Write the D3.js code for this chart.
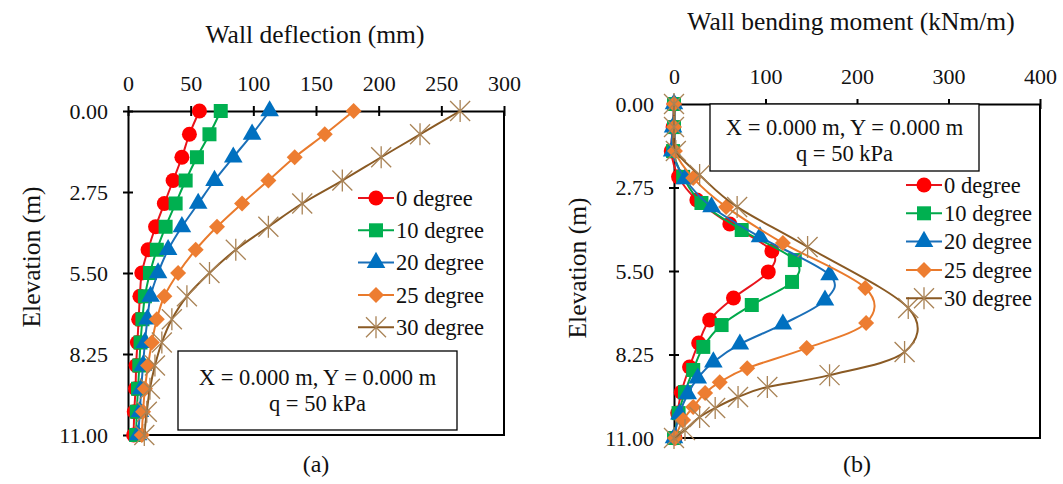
<!DOCTYPE html>
<html>
<head>
<meta charset="utf-8">
<script src="https://cdn.jsdelivr.net/npm/d3@7"></script>
<style>
  body { margin: 0; background: #fff; }
</style>
</head>
<body>
<div id="chart"></div>
<script>
var seriesNames = ["0 degree", "10 degree", "20 degree", "25 degree", "30 degree"];

// (a) wall deflection (mm), nodes at these elevations (m)
var deflElev = [0.00, 0.79, 1.57, 2.36, 3.14, 3.93, 4.71, 5.50, 6.29, 7.07, 7.86, 8.64, 9.43, 10.21, 11.00];
var defl0  = [57, 49, 43, 36, 29, 22, 16, 11, 9.5, 8.5, 7.5, 6.5, 6, 5, 4.5];
var defl10 = [74, 65, 55, 46, 38, 30, 23, 17.5, 13.5, 11.5, 10, 9, 8, 7, 6.5];
var defl20 = [113, 99, 84, 69, 56, 43, 32, 24, 18, 15.5, 13.5, 12, 10.5, 9.5, 8];
var defl25 = [180, 157, 133, 112, 91, 71, 54, 40, 29, 23, 19, 16, 13.5, 12, 11];
var defl30 = [265, 233, 202, 171, 139, 112, 86, 65, 47, 35, 27, 21.5, 17.5, 15, 13];

// (b) wall bending moment (kNm/m), each case has its own node elevations (m)
var momElev0  = [0, 0.76, 1.55, 2.40, 3.16, 3.95, 4.84, 5.53, 6.39, 7.11, 7.87, 8.66, 9.49, 10.18, 11.00];
var mom0      = [0, -1, -3, 5, 25, 61, 107, 103, 65, 39, 27, 17, 8, 4, 1];
var momElev10 = [0, 0.76, 1.55, 2.40, 3.26, 4.15, 5.14, 5.86, 6.62, 7.28, 8.00, 8.76, 9.49, 10.18, 11.00];
var mom10     = [0, 0, -1, 10, 30, 74, 132, 129, 85, 52, 32, 21, 12, 5, 0];
var momElev20 = [0, 0.76, 1.55, 2.47, 3.39, 4.38, 5.63, 6.46, 7.25, 7.91, 8.50, 9.03, 9.55, 10.21, 11.00];
var mom20     = [0, -1, -2, 12, 41, 94, 170, 165, 119, 72, 43, 26, 15, 6, 0];
var momElev25 = [0, 0.76, 1.55, 2.44, 3.39, 4.58, 6.06, 7.21, 8.04, 8.70, 9.16, 9.52, 9.98, 10.41, 11.00];
var mom25     = [0, 0, 1, 21, 57, 119, 209, 210, 145, 80, 50, 34, 21, 10, 1];
var momElev30 = [0, 0.76, 1.55, 2.34, 3.39, 4.71, 6.72, 8.17, 8.93, 9.32, 9.65, 10.01, 10.31, 10.74, 11.00];
var mom30     = [0, 0, 2, 28, 69, 146, 256, 252, 170, 102, 70, 45, 28, 12, 0];

var deflTicks = [0, 50, 100, 150, 200, 250, 300];
var momTicks = [0, 100, 200, 300, 400];
var elevTicks = [0, 2.75, 5.5, 8.25, 11];

var FONT = "'Liberation Serif', 'Times New Roman', Times, 'DejaVu Serif', serif";
var colors = ["#ff0000", "#00b050", "#0070c0", "#ed7d31", "#9c6a2e"];
var lineColors = ["#e8141c", "#00a84a", "#1a6fb8", "#e97a2c", "#8a5a24"];
var shapes = ["circle", "square", "triangle", "diamond", "star"];

var svg = d3.select("#chart").append("svg")
  .attr("width", 1063)
  .attr("height", 484)
  .style("font-family", FONT);

function label(g, x, y, size, txt) {
  return g.append("text").attr("x", x).attr("y", y)
    .style("font-family", FONT).style("font-size", size + "px")
    .attr("fill", "#111").text(txt);
}

function drawMarker(g, shape, x, y, i) {
  if (shape === "circle") {
    g.append("circle").attr("cx", x).attr("cy", y).attr("r", 7.5).attr("fill", colors[i]);
  } else if (shape === "square") {
    g.append("rect").attr("x", x - 7).attr("y", y - 7).attr("width", 14).attr("height", 14).attr("fill", colors[i]);
  } else if (shape === "triangle") {
    g.append("path").attr("d", d3.symbol(d3.symbolTriangle, 150)()).attr("transform", `translate(${x},${y})`).attr("fill", colors[i]);
  } else if (shape === "diamond") {
    g.append("path").attr("d", `M0,-8L8,0L0,8L-8,0Z`).attr("transform", `translate(${x},${y})`).attr("fill", colors[i]);
  } else {
    g.append("path").attr("d", "M-10,-10L10,10M-10,10L10,-10M0,-11L0,11")
      .attr("transform", `translate(${x},${y})`)
      .attr("stroke", "#a98356").attr("stroke-width", 1.3).attr("fill", "none");
  }
}

function panel(o) {
  var x = d3.scaleLinear().domain(o.xDomain).range([o.left, o.right]);
  var y = d3.scaleLinear().domain([0, 11]).range([o.top, o.bottom]);
  var g = svg.append("g");

  // plot frame (right + bottom)
  g.append("path")
    .attr("d", `M${o.right},${o.top}V${o.bottom}H${o.left}`)
    .attr("stroke", "#000").attr("stroke-width", 2).attr("fill", "none");

  // top axis
  var xa = g.append("g").attr("transform", `translate(0,${o.top})`)
    .call(d3.axisTop(x).tickValues(o.xTicks).tickSizeInner(5).tickSizeOuter(0).tickPadding(15));
  xa.selectAll(".tick line").attr("y2", 5).attr("y1", -5);
  var ya = g.append("g").attr("transform", `translate(${o.left},0)`)
    .call(d3.axisLeft(y).tickValues(elevTicks).tickFormat(d3.format(".2f")).tickSizeInner(5).tickSizeOuter(0).tickPadding(15));
  ya.selectAll(".tick line").attr("x1", 5).attr("x2", -5);
  g.selectAll(".domain").attr("stroke", "#000").attr("stroke-width", 2);
  g.selectAll(".tick line").attr("stroke", "#000").attr("stroke-width", 2);
  g.selectAll(".tick text").style("font-family", FONT).style("font-size", "22px").attr("fill", "#111");

  // titles
  label(g, o.titleX, o.titleY, 25.5, o.title).attr("text-anchor", "middle");
  label(g, 0, 0, 25.5, "Elevation (m)").attr("text-anchor", "middle")
    .attr("transform", `translate(${o.ylabX},${o.ylabY}) rotate(-90)`);
  label(g, (o.left + o.right) / 2, 472, 24, o.tag).attr("text-anchor", "middle");

  // info box
  g.append("rect").attr("x", o.box[0]).attr("y", o.box[1]).attr("width", o.box[2]).attr("height", o.box[3])
    .attr("fill", "#fff").attr("stroke", "#000").attr("stroke-width", 1.3);
  var bx = o.box[0] + o.box[2] / 2;
  label(g, bx, o.box[1] + o.boxLine1, 22.5, "X = 0.000 m,  Y = 0.000 m").attr("text-anchor", "middle");
  label(g, bx, o.box[1] + o.boxLine2, 22.5, "q = 50 kPa").attr("text-anchor", "middle");

  var line = d3.line()
    .x(d => x(d[1]))
    .y(d => y(d[0]))
    .curve(d3.curveCatmullRom.alpha(0));

  o.series.forEach(function(vals, i) {
    var pts = o.elev[i].map((e, k) => [e, vals[k]]);
    g.append("path").datum(pts).attr("d", line)
      .attr("fill", "none").attr("stroke", lineColors[i]).attr("stroke-width", 2);
    var mg = g.append("g");
    pts.forEach(p => drawMarker(mg, shapes[i], x(p[1]), y(p[0]), i));
  });

  // legend
  seriesNames.forEach(function(name, i) {
    var ly = o.legY + i * o.legStep;
    g.append("line").attr("x1", o.legX).attr("x2", o.legX + 36).attr("y1", ly).attr("y2", ly)
      .attr("stroke", lineColors[i]).attr("stroke-width", 2);
    drawMarker(g, shapes[i], o.legX + 18, ly, i);
    label(g, o.legX + 38, ly, 22.5, name).attr("dy", "0.35em");
  });
}

panel({
  left: 128, right: 504, top: 111, bottom: 435,
  xDomain: [0, 300], xTicks: deflTicks,
  title: "Wall deflection (mm)", titleX: 315, titleY: 43,
  ylabX: 40, ylabY: 257, tag: "(a)",
  box: [178, 351, 279, 79], boxLine1: 34, boxLine2: 60,
  series: [defl0, defl10, defl20, defl25, defl30],
  elev: [deflElev, deflElev, deflElev, deflElev, deflElev],
  legX: 358, legY: 198, legStep: 32.3
});

panel({
  left: 674, right: 1040, top: 104, bottom: 438,
  xDomain: [0, 400], xTicks: momTicks,
  title: "Wall bending moment (kNm/m)", titleX: 851, titleY: 30,
  ylabX: 586, ylabY: 268, tag: "(b)",
  box: [710, 104, 269, 67], boxLine1: 31, boxLine2: 57,
  series: [mom0, mom10, mom20, mom25, mom30],
  elev: [momElev0, momElev10, momElev20, momElev25, momElev30],
  legX: 906, legY: 185, legStep: 28.3
});
</script>
</body>
</html>
